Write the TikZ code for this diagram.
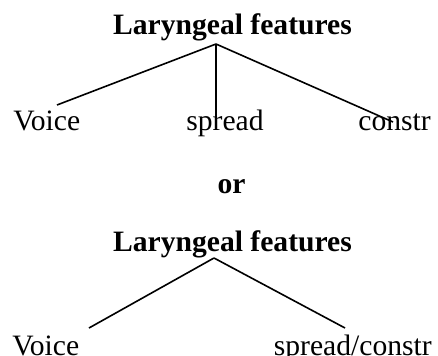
\documentclass[tikz,border=0pt]{standalone}
\usepackage{fontspec}
\setmainfont{Liberation Serif}
\usetikzlibrary{calc}

\begin{document}
\begin{tikzpicture}[
    x=0.75pt,y=-0.75pt,
    mother/.style={inner sep=0pt,font=\fontsize{22.2pt}{26pt}\selectfont\bfseries},
    daughter/.style={inner sep=0pt,font=\fontsize{22.2pt}{26pt}\selectfont},
    branch/.style={line width=1.2pt}
  ]
    \useasboundingbox (0,0) rectangle (438,356);

    % three-way split
    \node[mother,anchor=base] (lar1) at (232.5,35) {Laryngeal features};
    \node[daughter,anchor=base west] (voice1) at (13,130) {Voice};
    \node[daughter,anchor=base] (spread1) at (225,130) {spread};
    \node[daughter,anchor=base east] (constr1) at (431,130) {constr};

    \node[mother,anchor=base] (or) at (231.5,193) {or};

    % two-way split
    \node[mother,anchor=base] (lar2) at (232.5,251) {Laryngeal features};
    \node[daughter,anchor=base west] (voice2) at (12,355) {Voice};
    \node[daughter,anchor=base east] (sc2) at (432,355) {spread/constr};

    \coordinate (root1) at ($(lar1.base)+(-16.5,9)$);
    \coordinate (root2) at ($(lar2.base)+(-18.5,7)$);

    \draw[branch] (root1) -- ($(voice1.base west)+(44,-25)$);
    \draw[branch] (root1) -- (root1 |- {$(spread1.base)+(0,-10)$});
    \draw[branch] (root1) -- ($(constr1.base east)+(-38,-8)$);

    \draw[branch] (root2) -- ($(voice2.base west)+(77,-27)$);
    \draw[branch] (root2) -- ($(sc2.base east)+(-87,-27)$);
  \end{tikzpicture}
\end{document}
